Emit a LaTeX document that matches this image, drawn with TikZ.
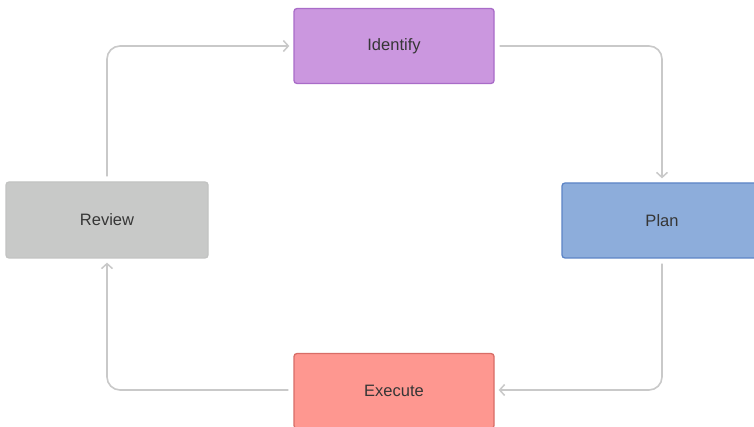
\documentclass[tikz,border=0pt]{standalone}
\usepackage{fontspec}
\setmainfont{Liberation Sans}
\usetikzlibrary{arrows.meta}
\definecolor{idfill}{HTML}{CB97DF}
\definecolor{iddraw}{HTML}{A96CC8}
\definecolor{plfill}{HTML}{8DADDB}
\definecolor{pldraw}{HTML}{5C84C6}
\definecolor{rvfill}{HTML}{C8C9C8}
\definecolor{rvdraw}{HTML}{C2C3C2}
\definecolor{exfill}{HTML}{FE9790}
\definecolor{exdraw}{HTML}{D86D67}
\definecolor{conn}{HTML}{C9C9C9}
\definecolor{txt}{HTML}{363636}
\tikzset{
  box/.style={rectangle, rounded corners=3pt, line width=1.3pt, minimum width=200pt, minimum height=75pt, inner sep=0pt, text=txt, font=\fontsize{16.5}{19}\selectfont},
  conn/.style={draw=conn, line width=1.6pt, rounded corners=13pt, -{Straight Barb[length=5pt,width=11pt,line width=1.5pt]}}
}
\begin{document}
\begin{tikzpicture}[x=1pt,y=-1pt]
\useasboundingbox (0,0) rectangle (754,427);
\clip (0,0) rectangle (754,427);
\fill[white] (0,0) rectangle (754,427);
\node[box, fill=idfill, draw=iddraw] (id) at (394,46) {Identify};
\node[box, fill=plfill, draw=pldraw, minimum width=200pt] (pl) at (662,220.5) {Plan};
\node[box, fill=exfill, draw=exdraw] (ex) at (394,391) {Execute};
\node[box, fill=rvfill, draw=rvdraw, minimum width=202pt, minimum height=76pt] (rv) at (107,220) {Review};
\coordinate (c1) at (662,46);
\coordinate (c2) at (662,390);
\coordinate (c3) at (107,390);
\coordinate (c4) at (107,46);
\draw[conn, shorten <=5pt, shorten >=4pt] (id.east) -- (c1) -- (pl.north);
\draw[conn, shorten <=5pt, shorten >=4pt] (pl.south) -- (c2) -- (ex.east|-c2);
\draw[conn, shorten <=5pt, shorten >=4pt] (ex.west|-c3) -- (c3) -- (rv.south);
\draw[conn, shorten <=5pt, shorten >=4pt] (rv.north) -- (c4) -- (id.west);
\end{tikzpicture}
\end{document}
